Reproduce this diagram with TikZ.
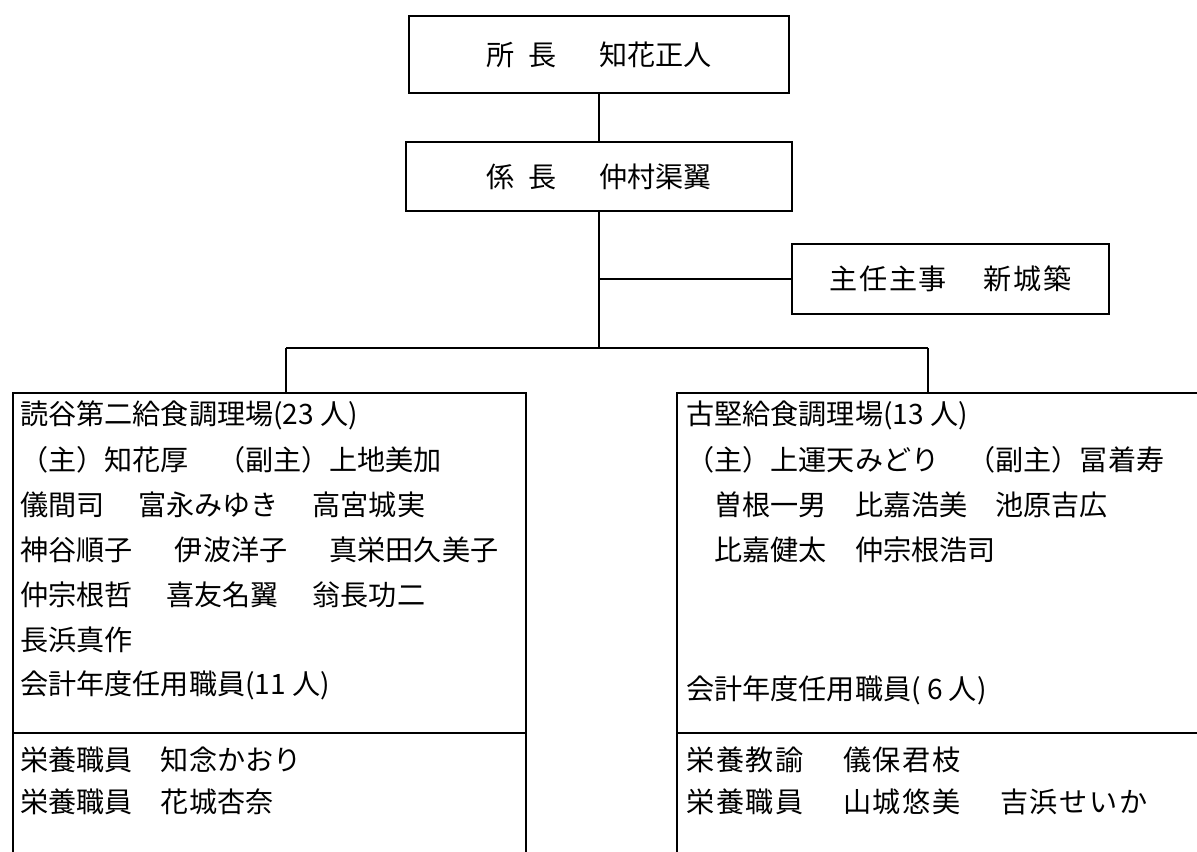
\documentclass[tikz,border=0pt]{standalone}
\usepackage{fontspec}
\setmainfont{Noto Sans CJK JP}
\newfontfamily\spaced[LetterSpace=6]{Noto Sans CJK JP}
\usetikzlibrary{positioning}
\tikzset{
  post/.style={draw, line width=1.2pt, inner sep=0pt, font=\fontsize{16pt}{20pt}\selectfont},
  frame/.style={draw, line width=1.2pt, anchor=north west, inner sep=0pt},
  row/.style={anchor=west, inner sep=0pt, font=\fontsize{16pt}{20pt}\selectfont},
  wide row/.style={row, font=\fontsize{16pt}{20pt}\spaced},
  wire/.style={line width=1.2pt}
}

\begin{document}
\begin{tikzpicture}[x=0.02cm, y=-0.02cm]
  \useasboundingbox (0,0) rectangle (1197,852);
  % upper posts
  \node[post, minimum width=7.6cm, minimum height=1.54cm] (chief) at (599,54.5) {所\hspace{0.5em}長\hspace{1.5em}知花正人};
  \node[post, minimum width=7.72cm, minimum height=1.38cm, below=0.94cm of chief] (head) {係\hspace{0.5em}長\hspace{1.5em}仲村渠翼};
  \node[post, minimum width=6.34cm, minimum height=1.4cm, font=\fontsize{16pt}{20pt}\spaced] (staff) at (950.5,279) {主任主事\hspace{1.3em}新城築};
  \coordinate (barL) at (286,348);
  \coordinate (barR) at (928,348);
  % kitchens
  \node[frame, minimum width=10.26cm, minimum height=10.6cm] (yomi) at (12,392) {};
  \node[frame, minimum width=11cm, minimum height=10.6cm] (koga) at (676,392) {};
  \draw[wire] (yomi.west |- 0,733) -- (yomi.east |- 0,733);
  \draw[wire] (koga.west |- 0,733) -- (koga.east |- 0,733);
  % connectors
  \draw[wire] (chief.south) -- (head.north);
  \draw[wire] (head.south) -- (head.south |- barL);
  \draw[wire] (head.south |- staff.west) -- (staff.west);
  \draw[wire] (barL) -- (barR);
  \draw[wire] (barL) -- (barL |- yomi.north);
  \draw[wire] (barR) -- (barR |- koga.north);
  % members
  \foreach \t [count=\i] in {{読谷第二給食調理場(23 人)}, {（主）知花厚　（副主）上地美加}, {儀間司\hspace{1.2em}富永みゆき\hspace{1.2em}高宮城実}, {神谷順子\hspace{1.5em}伊波洋子\hspace{1.5em}真栄田久美子}, {仲宗根哲\hspace{1.2em}喜友名翼\hspace{1.2em}翁長功二}, {長浜真作}, {会計年度任用職員(11 人)}}
    \node[row] (yrow\i) at (20,{415+45*(\i-1)}) {\t};
  \foreach \t [count=\i] in {{古堅給食調理場(13 人)}, {（主）上運天みどり　（副主）冨着寿}, {　曽根一男　比嘉浩美　池原吉広}, {　比嘉健太　仲宗根浩司}}
    \node[row] (krow\i) at (686,{415+45*(\i-1)}) {\t};
  \node[row] (kpart) at (686,690) {会計年度任用職員( 6 人)};
  \node[row] (ydiet1) at (20,760) {栄養職員　知念かおり};
  \node[row] (ydiet2) at (20,802) {栄養職員　花城杏奈};
  \node[wide row] (kdiet1) at (686,760) {栄養教諭\hspace{1.4em}儀保君枝};
  \node[wide row] (kdiet2) at (686,802) {栄養職員\hspace{1.4em}山城悠美\hspace{1.4em}吉浜せいか};
\end{tikzpicture}
\end{document}
